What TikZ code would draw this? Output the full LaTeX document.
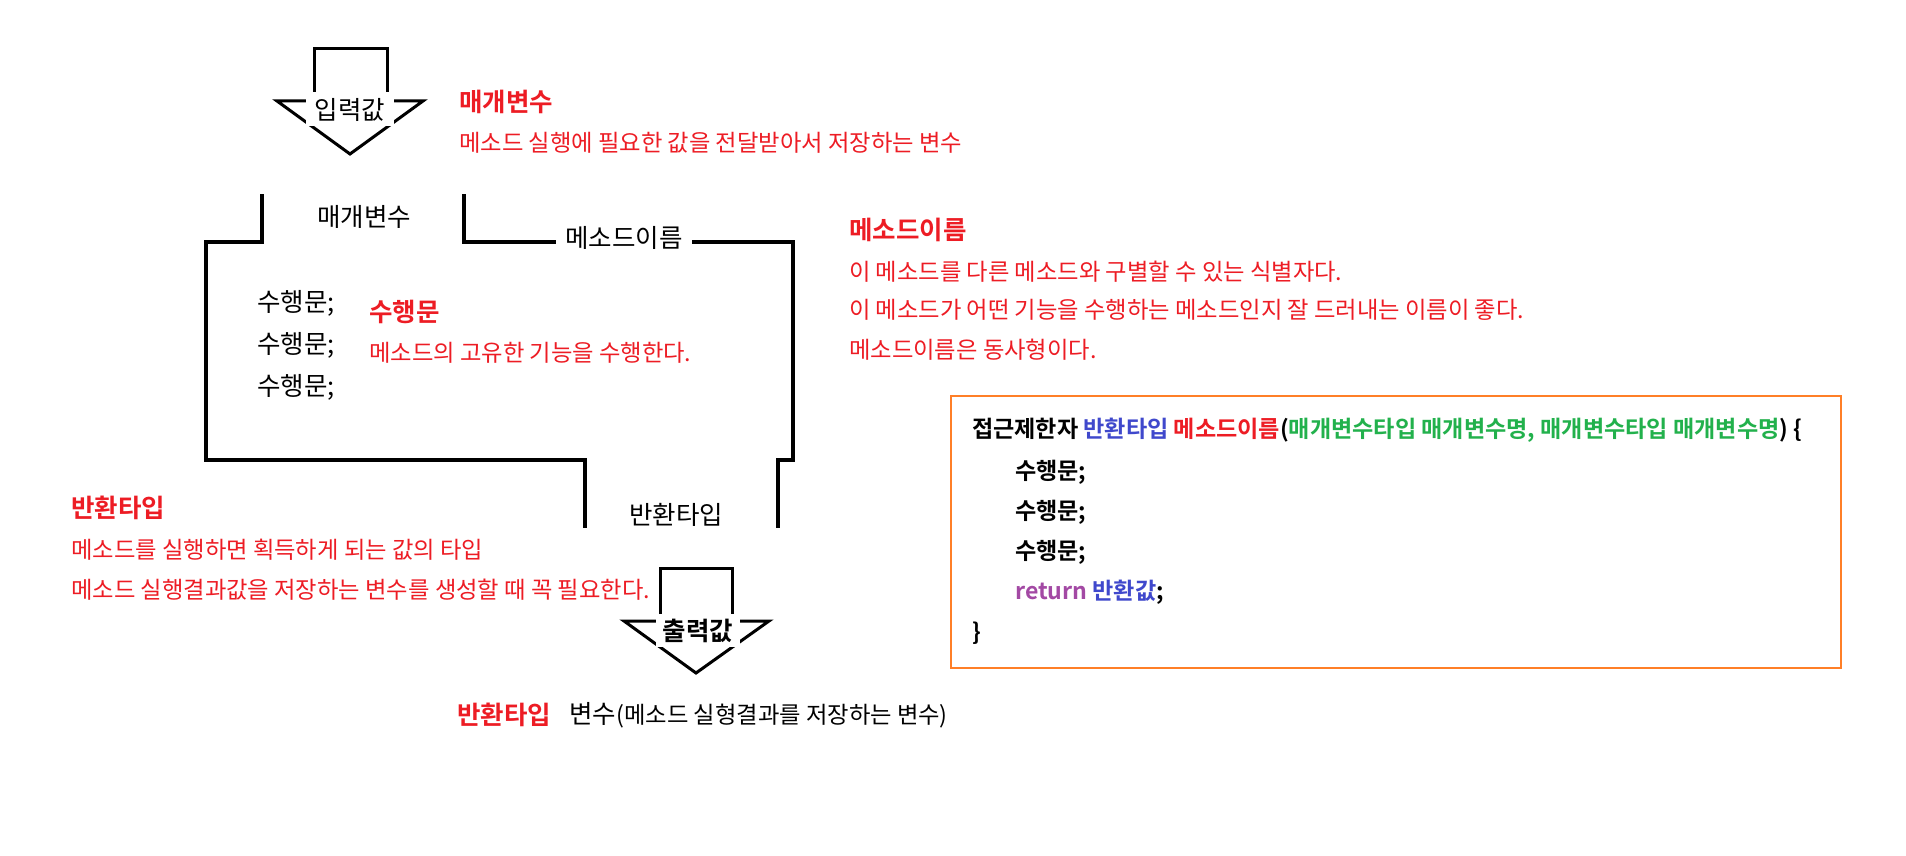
\documentclass[tikz,border=0pt]{standalone}
\usepackage{fontspec}
\setmainfont{Noto Sans CJK KR}[BoldFont={Noto Sans CJK KR Bold}]
\usetikzlibrary{positioning}
\definecolor{pred}{HTML}{ED1C24}
\definecolor{pblue}{HTML}{3F48CC}
\definecolor{pgreen}{HTML}{22B14C}
\definecolor{ppurple}{HTML}{A349A4}
\definecolor{porange}{HTML}{FF7F27}

\tikzset{
	frame/.style={line width=4pt, line join=miter},
	arrowline/.style={line width=3pt},
	lbl/.style={font=\fontsize{25.5}{30}\selectfont, inner sep=1pt},
	title/.style={font=\bfseries\fontsize{25.5}{30}\selectfont, text=pred, anchor=west, inner sep=0pt},
	note/.style={font=\fontsize{23.3}{28}\selectfont, text=pred, anchor=west, inner sep=0pt},
	code/.style={font=\bfseries\fontsize{23.1}{28}\selectfont, anchor=west, inner sep=0pt},
}

\begin{document}
\begin{tikzpicture}[x=1pt, y=-1pt]
	\useasboundingbox[fill=white] (0,0) rectangle (1906,856);

	% input arrow
	\draw[arrowline] (314,92) -- (314,49) -- (387,49) -- (387,92);
	\draw[arrowline] (277,101) -- (423,101) -- (350,154) -- cycle;
	\node[lbl, fill=white, inner xsep=9pt, inner ysep=4pt] (inval) at (350,110) {입력값};

	% method frame, left part
	\draw[frame] (262,194) -- (262,242) -- (206,242) -- (206,460) -- (585,460) -- (585,528);
	% method frame, right part
	\draw[frame] (464,194) -- (464,242) -- (793,242) -- (793,460) -- (778,460) -- (778,528);
	\node[lbl, fill=white, inner xsep=9pt] (mname) at (624,238) {메소드이름};
	\node[lbl] (param) at (364,217) {매개변수};
	\node[lbl] (rtype) at (676,515) {반환타입};
	\foreach \y [count=\i] in {303,345,387}{
		\node[lbl, anchor=west, inner sep=0pt] (stmt\i) at (257,\y) {수행문;};
	}

	% output arrow
	\draw[arrowline] (660,614) -- (660,568) -- (732,568) -- (732,614);
	\draw[arrowline] (624,621) -- (769,621) -- (696,673) -- cycle;
	\node[lbl, font=\bfseries\fontsize{25.5}{30}\selectfont, fill=white, inner xsep=7pt, inner ysep=4pt] (outval) at (698,631) {출력값};

	% red notes
	\node[title] (paramT) at (459,102) {매개변수};
	\node[note] (paramD) at (459,143) {메소드 실행에 필요한 값을 전달받아서 저장하는 변수};

	\node[title] (stmtT) at (369,312) {수행문};
	\node[note] (stmtD) at (369,353) {메소드의 고유한 기능을 수행한다.};

	\node[title] (mnameT) at (849,230) {메소드이름};
	\node[note] (mnameA) at (849,272) {이 메소드를 다른 메소드와 구별할 수 있는 식별자다.};
	\node[note] (mnameB) at (849,310) {이 메소드가 어떤 기능을 수행하는 메소드인지 잘 드러내는 이름이 좋다.};
	\node[note] (mnameC) at (849,350) {메소드이름은 동사형이다.};

	\node[title] (rtypeT) at (71,508) {반환타입};
	\node[note] (rtypeA) at (71,550) {메소드를 실행하면 획득하게 되는 값의 타입};
	\node[note] (rtypeB) at (71,590) {메소드 실행결과값을 저장하는 변수를 생성할 때 꼭 필요한다.};

	% result variable
	\node[title] (resT) at (457,715) {반환타입};
	\node[lbl, anchor=west, inner sep=0pt, right=18pt of resT] (resV) {변수\fontsize{23.3}{28}\selectfont(메소드 실형결과를 저장하는 변수)};

	% code box
	\draw[porange, line width=1.5pt] (951,396) rectangle (1841,668);
	\node[code] (sig) at (972,430) {접근제한자 \textcolor{pblue}{반환타입} \textcolor{pred}{메소드이름}(\textcolor{pgreen}{매개변수타입 매개변수명, 매개변수타입 매개변수명}) \{};
	\foreach \y [count=\i] in {472,512,552}{
		\node[code] (cstmt\i) at (1015,\y) {수행문;};
	}
	\node[code] (cret) at (1015,592) {\textcolor{ppurple}{return} \textcolor{pblue}{반환값};};
	\node[code] (cend) at (972,633) {\}};
\end{tikzpicture}
\end{document}
